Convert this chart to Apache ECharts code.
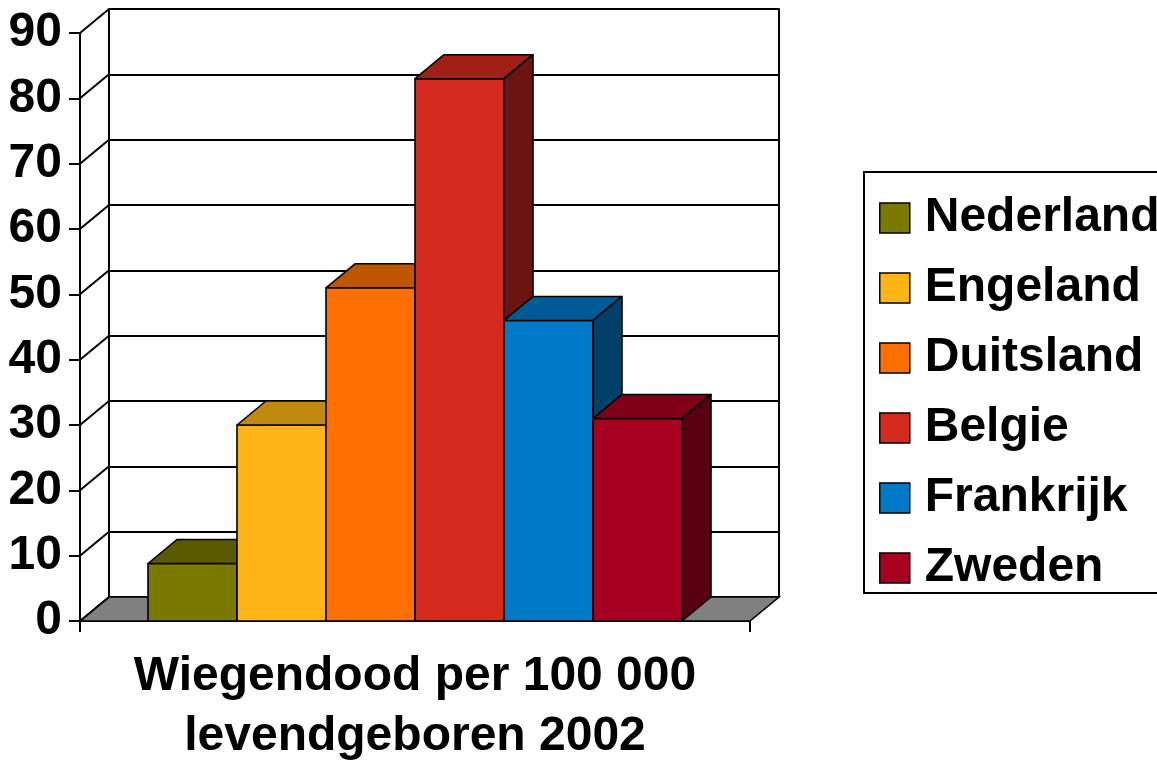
<!DOCTYPE html>
<html>
<head>
<meta charset="utf-8">
<script src="https://cdn.jsdelivr.net/npm/echarts@6/dist/echarts.min.js"></script>
<style>
  html, body { margin: 0; padding: 0; background: #fff; }
  #chart { width: 1157px; height: 762px; }
</style>
</head>
<body>
<div id="chart"></div>
<script>
// ---- data ----
const categories = ['Wiegendood per 100 000\nlevendgeboren 2002'];
const countries = ['Nederland', 'Engeland', 'Duitsland', 'Belgie', 'Frankrijk', 'Zweden'];
const values = [8.8, 30, 51, 83, 46, 31];
const yTicks = [0, 10, 20, 30, 40, 50, 60, 70, 80, 90];

// ---- styles ----
const frontColors = ['#7A7A00', '#FFB515', '#FF7000', '#D52B1E', '#0079C8', '#A80020'];
const topColors   = ['#5A5A00', '#C08A10', '#C05500', '#A02018', '#005A96', '#800018'];
const sideColors  = ['#424200', '#8A6208', '#8A3D00', '#6A1510', '#003F68', '#580012'];
const DX = 29, DY = -24;
const GROUP_RATIO = 534 / 670;
const FONT = 'Liberation Sans, Arial, sans-serif';

const chart = echarts.init(document.getElementById('chart'), null, { renderer: 'canvas' });

function barRenderer(idx) {
  return function (params, api) {
    const v = api.value(1);
    const base = api.coord([0, 0]);
    const top = api.coord([0, v]);
    const band = api.size([1, 0])[0];
    const groupW = band * GROUP_RATIO;
    const bw = groupW / countries.length;
    const x0 = base[0] - groupW / 2 + idx * bw;
    const x1 = x0 + bw;
    const yb = base[1], yt = top[1];
    const st = { stroke: '#000', lineWidth: 1.6, lineJoin: 'round' };
    return {
      type: 'group',
      children: [
        { type: 'polygon', shape: { points: [[x0, yb], [x1, yb], [x1, yt], [x0, yt]] },
          style: Object.assign({ fill: frontColors[idx] }, st) },
        { type: 'polygon', shape: { points: [[x0, yt], [x1, yt], [x1 + DX, yt + DY], [x0 + DX, yt + DY]] },
          style: Object.assign({ fill: topColors[idx] }, st) },
        { type: 'polygon', shape: { points: [[x1, yb], [x1 + DX, yb + DY], [x1 + DX, yt + DY], [x1, yt]] },
          style: Object.assign({ fill: sideColors[idx] }, st) }
      ]
    };
  };
}

const barSeries = countries.map((name, i) => ({
  type: 'custom',
  name: name,
  xAxisIndex: 0,
  yAxisIndex: 0,
  z: 10 + i,
  itemStyle: { color: frontColors[i] },
  renderItem: barRenderer(i),
  data: [[0, values[i]]],
  encode: { x: 0, y: 1 }
}));

const floorSeries = {
  type: 'custom',
  name: '__floor',
  xAxisIndex: 0,
  yAxisIndex: 0,
  z: 3,
  silent: true,
  renderItem: function (params, api) {
    const cs = params.coordSys;
    const y0 = api.coord([0, 0])[1];
    return {
      type: 'polygon',
      shape: { points: [[cs.x, y0], [cs.x + DX, y0 + DY], [cs.x + cs.width + DX, y0 + DY], [cs.x + cs.width, y0]] },
      style: { fill: '#808080', stroke: '#000', lineWidth: 1.6 }
    };
  },
  data: [[0, 0]],
  encode: { x: 0, y: 1 }
};

const sideWallSeries = {
  type: 'custom',
  name: '__side',
  xAxisIndex: 0,
  yAxisIndex: 0,
  z: 4,
  silent: true,
  renderItem: function (params, api) {
    const cs = params.coordSys;
    const y = api.coord([0, api.value(1)])[1];
    return {
      type: 'line',
      shape: { x1: cs.x, y1: y, x2: cs.x + DX, y2: y + DY },
      style: { stroke: '#000', lineWidth: 2 }
    };
  },
  data: yTicks.map(v => [0, v]),
  encode: { x: 0, y: 1 }
};

const option = {
  animation: false,
  backgroundColor: '#ffffff',
  grid: [
    { left: 80, top: 33, width: 670, height: 588, containLabel: false, outerBoundsMode: 'none' },
    { left: 109, top: 9, width: 670, height: 588, containLabel: false, outerBoundsMode: 'none' }
  ],
  xAxis: [
    {
      type: 'category', gridIndex: 0, data: categories,
      axisLine: { show: true, lineStyle: { color: '#000', width: 2 } },
      axisTick: { show: true, length: 11, lineStyle: { color: '#000', width: 2 } },
      axisLabel: { show: true, margin: 26, fontSize: 48, fontWeight: 'bold', fontFamily: FONT, color: '#000', lineHeight: 60, align: 'center' },
      splitLine: { show: false }
    },
    {
      type: 'category', gridIndex: 1, data: categories,
      axisLine: { show: false }, axisTick: { show: false }, axisLabel: { show: false }, splitLine: { show: false }
    }
  ],
  yAxis: [
    {
      type: 'value', gridIndex: 0, min: 0, max: 90, interval: 10,
      axisLine: { show: true, lineStyle: { color: '#000', width: 2 } },
      axisTick: { show: true, length: 11, lineStyle: { color: '#000', width: 2 } },
      axisLabel: { show: true, margin: 18, fontSize: 48, fontWeight: 'bold', fontFamily: FONT, color: '#000' },
      splitLine: { show: false }
    },
    {
      type: 'value', gridIndex: 1, min: 0, max: 90, interval: 10, position: 'left',
      axisLine: { show: true, lineStyle: { color: '#000', width: 2 } },
      axisTick: { show: false }, axisLabel: { show: false },
      splitLine: { show: true, lineStyle: { color: '#000', width: 2 } }
    },
    {
      type: 'value', gridIndex: 1, min: 0, max: 90, interval: 10, position: 'right',
      axisLine: { show: true, lineStyle: { color: '#000', width: 2 } },
      axisTick: { show: false }, axisLabel: { show: false }, splitLine: { show: false }
    }
  ],
  legend: {
    orient: 'vertical',
    left: 864, top: 172,
    padding: [22, 20, 1, 15],
    itemGap: 22,
    itemWidth: 30, itemHeight: 30,
    icon: 'rect',
    borderColor: '#000', borderWidth: 2,
    data: countries,
    itemStyle: { borderColor: '#000', borderWidth: 1.5 },
    textStyle: { fontSize: 48, fontWeight: 'bold', fontFamily: FONT, color: '#000', lineHeight: 48, padding: [0, 0, 0, 10] },
    selectedMode: false
  },
  series: [floorSeries, sideWallSeries].concat(barSeries)
};

chart.setOption(option);
</script>
</body>
</html>
